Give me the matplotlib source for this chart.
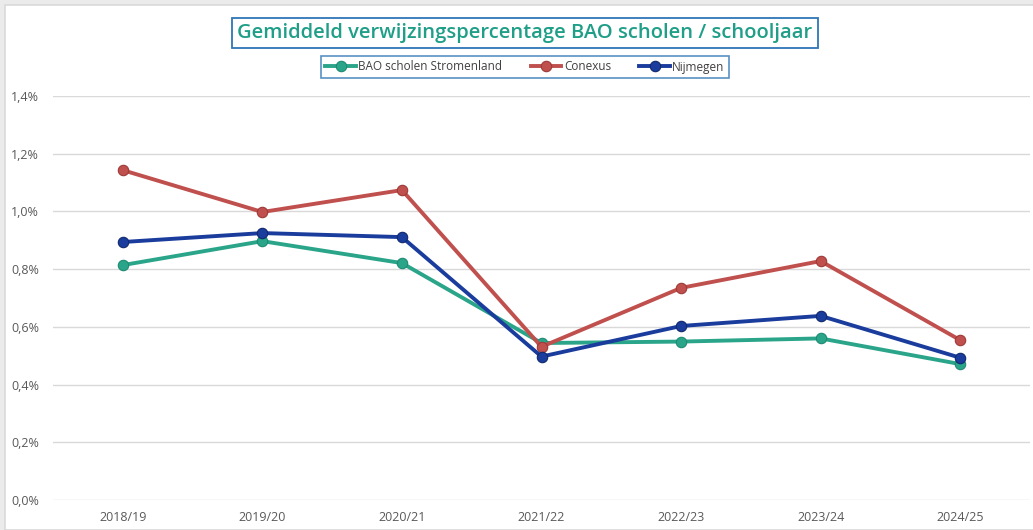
import matplotlib.pyplot as plt
from matplotlib.patches import Rectangle
from matplotlib.ticker import FuncFormatter

plt.rcParams['font.family'] = ['Open Sans', 'DejaVu Sans']

years = ['2018/19', '2019/20', '2020/21', '2021/22', '2022/23', '2023/24', '2024/25']
stromenland = [0.814, 0.897, 0.821, 0.544, 0.549, 0.560, 0.471]
conexus = [1.143, 0.998, 1.074, 0.531, 0.735, 0.828, 0.554]
nijmegen = [0.894, 0.925, 0.911, 0.497, 0.603, 0.638, 0.493]

teal = '#2aa58a'
red = '#c0504d'
blue = '#1a3c9c'

fig = plt.figure(figsize=(10.33, 5.3), dpi=100)
fig.patch.set_facecolor('#ebebeb')
# white chart panel on the grey background
fig.add_artist(Rectangle((5/1033, 0), 1, 1 - 5/530, transform=fig.transFigure,
                         facecolor='white', edgecolor='#d9d9d9', lw=1.2, zorder=-5))

ax = fig.add_axes([53/1033, 30/530, 977/1033, 404/530])
ax.set_facecolor('none')
x = range(len(years))
ax.plot(x, stromenland, color=teal, lw=2.8, marker='o', ms=7.5, mec='#1d8a72', mew=0.8,
        label='BAO scholen Stromenland', zorder=3)
ax.plot(x, conexus, color=red, lw=2.8, marker='o', ms=7.5, mec='#9e3a37', mew=0.8,
        label='Conexus', zorder=3)
ax.plot(x, nijmegen, color=blue, lw=2.8, marker='o', ms=7.5, mec='#10296e', mew=0.8,
        label='Nijmegen', zorder=4)

ax.set_xlim(-0.5, 6.5)
ax.set_ylim(0, 1.4)
ax.set_yticks([0, 0.2, 0.4, 0.6, 0.8, 1.0, 1.2, 1.4])
ax.yaxis.set_major_formatter(FuncFormatter(lambda v, p: f'{v:.1f}%'.replace('.', ',')))
ax.set_xticks(list(x))
ax.set_xticklabels(years)
ax.grid(axis='y', color='#d9d9d9', lw=1)
ax.set_axisbelow(True)
for s in ax.spines.values():
    s.set_visible(False)
ax.tick_params(length=0, labelsize=9, colors='#595959', pad=8)
ax.tick_params(axis='y', pad=10)

fig.text(525/1033, 1 - 33/530, 'Gemiddeld verwijzingspercentage BAO scholen / schooljaar',
         ha='center', va='center', fontsize=14.5, fontweight='semibold', color='#1f9e88',
         bbox=dict(boxstyle='square,pad=0.25', fc='white', ec='#2e75b6', lw=1.3))

leg = fig.legend(loc='center', bbox_to_anchor=(525/1033, 1 - 67/530), ncol=3, frameon=True,
                 fontsize=8.5, handlelength=2.6, columnspacing=2.4, handletextpad=0.2,
                 borderpad=0.35, fancybox=False)
leg.get_frame().set_edgecolor('#2e75b6')
leg.get_frame().set_linewidth(1.2)
for t in leg.get_texts():
    t.set_color('#404040')

fig.savefig('out.png', dpi=100, facecolor=fig.get_facecolor())
